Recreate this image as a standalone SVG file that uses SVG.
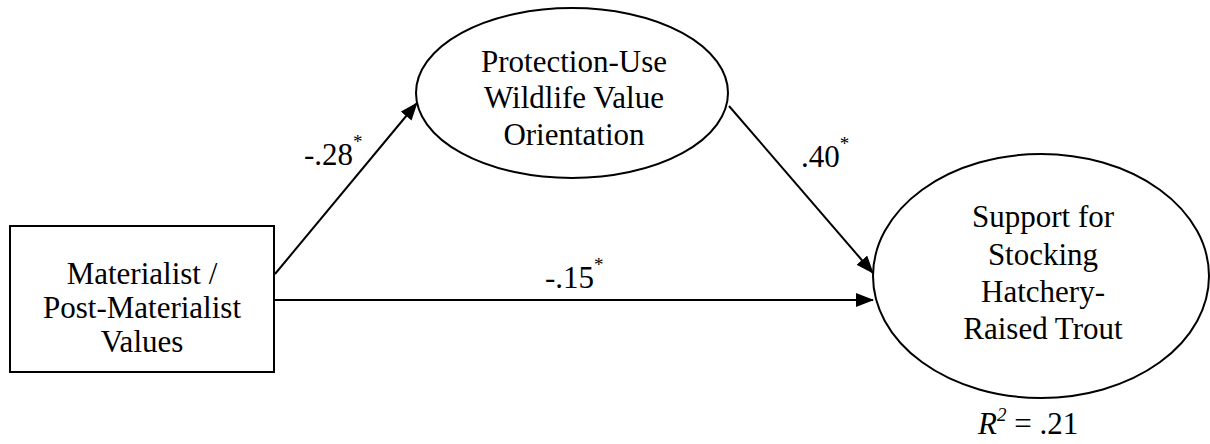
<svg xmlns="http://www.w3.org/2000/svg" width="1210" height="444" viewBox="0 0 1210 444">
<style>
.n{fill:#fff;stroke:#000;stroke-width:2}
.t{font-family:"Liberation Serif","Times New Roman",serif;font-size:31px;fill:#000;text-anchor:middle}
.l{font-family:"Liberation Serif","Times New Roman",serif;font-size:31px;fill:#000}
.c{stroke:#000;stroke-width:2;fill:none;marker-end:url(#ah)}
</style>
<defs>
<marker id="ah" markerWidth="18" markerHeight="14" refX="17" refY="7" orient="auto" markerUnits="userSpaceOnUse">
<path d="M0,0 L18,7 L0,14 Z" fill="#000"/>
</marker>
</defs>
<g id="connectors">
<line class="c" x1="275" y1="274" x2="417" y2="103"/>
<line class="c" x1="729" y1="106" x2="873" y2="273"/>
<line class="c" x1="274" y1="300" x2="873" y2="300"/>
</g>
<g id="node-materialist">
<rect class="n" x="10" y="226" width="264" height="146"/>
<text class="t" x="142" y="284">Materialist /</text>
<text class="t" x="142" y="318">Post-Materialist</text>
<text class="t" x="142" y="352">Values</text>
</g>
<g id="node-protection">
<ellipse class="n" cx="572" cy="93" rx="156" ry="85"/>
<text class="t" x="574" y="72">Protection-Use</text>
<text class="t" x="574" y="108">Wildlife Value</text>
<text class="t" x="574" y="145">Orientation</text>
</g>
<g id="node-support">
<ellipse class="n" cx="1041" cy="276" rx="168" ry="122"/>
<text class="t" x="1043" y="227">Support for</text>
<text class="t" x="1043" y="265">Stocking</text>
<text class="t" x="1043" y="302">Hatchery-</text>
<text class="t" x="1043" y="339">Raised Trout</text>
</g>
<g id="labels">
<text class="l" x="304" y="165">-.28<tspan font-size="19" dy="-17">*</tspan></text>
<text class="l" x="801" y="167">.40<tspan font-size="19" dy="-17">*</tspan></text>
<text class="l" x="545" y="288">-.15<tspan font-size="19" dy="-17">*</tspan></text>
<text class="l" x="978" y="434"><tspan font-style="italic">R</tspan><tspan font-style="italic" font-size="19" dy="-13">2</tspan><tspan dy="13"> = .21</tspan></text>
</g>
</svg>
